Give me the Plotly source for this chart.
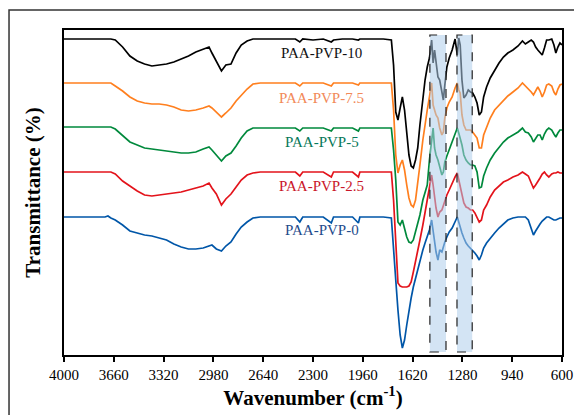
import plotly.graph_objects as go

# Wavenumber grid (cm-1)
wavenumber = [4000, 3900, 3800, 3720, 3700, 3680, 3650, 3600, 3550, 3500,
              3450, 3400, 3350, 3300, 3250, 3200, 3150, 3100, 3050, 3010,
              2990, 2960, 2925, 2895, 2860, 2825, 2790, 2750, 2710, 2660,
              2600, 2500, 2420, 2390, 2370, 2300, 2230, 2175, 2160, 2100,
              2030, 1990, 1980, 1900, 1820, 1765, 1750, 1735, 1720, 1705,
              1690, 1675, 1660, 1645, 1630, 1615, 1600, 1585, 1570, 1550,
              1535, 1520, 1505, 1490, 1480, 1470, 1460, 1447, 1435, 1420,
              1410, 1400, 1386, 1370, 1350, 1330, 1315, 1305, 1295, 1283,
              1270, 1255, 1240, 1225, 1210, 1195, 1180, 1165, 1150, 1135,
              1115, 1090, 1060, 1030, 1000, 970, 935, 900, 870, 850,
              830, 810, 795, 780, 765, 750, 735, 720, 705, 690,
              670, 655, 642, 628, 614, 600]

# Transmittance (a.u., stacked spectra)
paa_pvp_10 = [316, 316, 316, 316, 316, 316, 315, 308, 299, 294,
              291, 289, 290, 291, 293, 296, 299, 303, 306, 308,
              302, 293, 284, 290, 291, 302, 310, 314, 316, 316,
              316, 316, 316, 313, 316, 315, 316, 313, 315, 316,
              316, 315, 316, 316, 316, 315, 290, 243, 235, 247,
              258, 245, 218, 200, 189, 187, 195, 207, 230, 258,
              275, 288, 297, 315, 292, 305, 290, 278, 275, 260,
              255, 270, 288, 297, 305, 316, 300, 317, 310, 275,
              257, 260, 265, 263, 262, 258, 252, 240, 243, 258,
              268, 277, 285, 292, 298, 302, 305, 309, 314, 311,
              313, 315, 313, 308, 305, 303, 300, 307, 315, 315,
              316, 310, 302, 308, 312, 310]
paa_pvp_7_5 = [272, 272, 272, 272, 272, 272, 269, 264, 258, 254,
               252, 251, 251, 250, 248, 245, 244, 245, 247, 249,
               247, 243, 238, 242, 247, 254, 260, 266, 271, 272,
               272, 272, 272, 269, 272, 272, 272, 269, 272, 272,
               272, 270, 272, 272, 272, 272, 245, 200, 182, 190,
               195, 185, 170, 157, 150, 148, 155, 170, 190, 215,
               233, 245, 258, 272, 250, 245, 240, 237, 227, 220,
               223, 237, 247, 253, 258, 267, 272, 265, 262, 240,
               230, 225, 225, 225, 223, 220, 217, 207, 207, 220,
               227, 237, 245, 250, 255, 259, 263, 267, 272, 269,
               267, 263, 260, 264, 268, 264, 258, 263, 270, 271,
               269, 263, 260, 266, 270, 271]
paa_pvp_5 = [228, 228, 228, 228, 228, 228, 226, 219, 213, 210,
             207, 206, 205, 204, 203, 202, 202, 203, 206, 208,
             205, 200, 194, 199, 202, 209, 217, 224, 227, 227,
             227, 227, 227, 224, 227, 227, 227, 224, 227, 227,
             227, 224, 227, 227, 227, 227, 205, 175, 133, 130,
             135, 125, 118, 113, 112, 115, 123, 130, 140, 155,
             163, 170, 195, 215, 227, 207, 200, 195, 187, 180,
             183, 193, 199, 205, 213, 220, 227, 222, 217, 210,
             200, 195, 192, 190, 190, 189, 183, 167, 168, 179,
             187, 195, 202, 208, 213, 217, 220, 223, 227, 223,
             222, 218, 213, 217, 220, 220, 215, 221, 225, 227,
             225, 221, 218, 222, 225, 225]
paa_pvp_2_5 = [183, 183, 183, 183, 183, 183, 181, 174, 169, 164,
               160, 159, 160, 161, 162, 163, 165, 167, 169, 172,
               167, 161, 150, 156, 161, 168, 175, 180, 182, 183,
               183, 183, 183, 179, 183, 183, 183, 178, 183, 183,
               183, 178, 183, 183, 183, 183, 155, 105, 72, 69,
               68, 68, 68, 69, 73, 83, 93, 105, 115, 130,
               142, 152, 165, 180, 170, 155, 147, 138, 143, 145,
               150, 155, 160, 165, 172, 178, 182, 175, 168, 160,
               152, 148, 147, 145, 145, 142, 137, 133, 135, 145,
               150, 158, 165, 169, 173, 175, 178, 180, 183, 181,
               179, 172, 167, 170, 173, 177, 181, 183, 180, 178,
               181, 182, 182, 183, 182, 182]
paa_pvp_0 = [138, 138, 138, 138, 139, 137, 135, 130, 124, 122,
             120, 119, 117, 115, 111, 108, 106, 106, 107, 109,
             110, 106, 104, 109, 113, 121, 128, 133, 137, 138,
             138, 138, 138, 133, 138, 138, 138, 132, 138, 138,
             138, 132, 138, 138, 138, 137, 110, 75, 45, 20,
             7, 15, 30, 45, 57, 68, 77, 85, 95, 105,
             112, 118, 125, 135, 125, 110, 103, 95, 105, 103,
             109, 113, 118, 123, 127, 133, 138, 133, 127, 122,
             117, 112, 109, 107, 105, 102, 99, 95, 100, 107,
             112, 117, 122, 127, 131, 135, 137, 138, 138, 138,
             135, 125, 120, 124, 128, 131, 134, 136, 138, 138,
             136, 135, 135, 136, 137, 137]

series_names = ["PAA-PVP-10", "PAA-PVP-7.5", "PAA-PVP-5", "PAA-PVP-2.5", "PAA-PVP-0"]
series_values = [paa_pvp_10, paa_pvp_7_5, paa_pvp_5, paa_pvp_2_5, paa_pvp_0]
line_colors = ["#000000", "#ff7f1e", "#00893c", "#e3131b", "#0056a8"]
label_colors = ["#111111", "#f28a5a", "#08795a", "#c9162a", "#1f4c8c"]
label_y = [302, 257, 213, 169, 125]
label_x = 2239

# Highlighted bands (cm-1)
band_edges = [(1502, 1392), (1317, 1213)]
band_y = (3, 320)

x_ticks = [4000, 3660, 3320, 2980, 2640, 2300, 1960, 1620, 1280, 940, 600]

fig = go.Figure()
for name, vals, col in zip(series_names, series_values, line_colors):
    fig.add_trace(go.Scatter(x=wavenumber, y=vals, mode="lines", name=name,
                             line=dict(color=col, width=1.7), showlegend=False))

for name, ly, lc in zip(series_names, label_y, label_colors):
    fig.add_annotation(x=label_x, y=ly, text=name, showarrow=False,
                       font=dict(family="Liberation Serif", size=15, color=lc))

for x0, x1 in band_edges:
    fig.add_shape(type="rect", x0=x0, x1=x1, y0=band_y[0], y1=band_y[1],
                  xref="x", yref="y", layer="above",
                  fillcolor="rgba(175,205,235,0.55)",
                  line=dict(color="#222222", width=1.2, dash="dash"))

# outer figure frame
fig.add_shape(type="rect", xref="paper", yref="paper",
              x0=-0.1104, x1=1.06, y0=-0.25, y1=1.0615,
              line=dict(color="#333333", width=1.5), fillcolor="rgba(0,0,0,0)")

fig.update_layout(
    width=574, height=415,
    margin=dict(l=64, r=12, t=30, b=60, autoexpand=False),
    paper_bgcolor="white", plot_bgcolor="white",
    font=dict(family="Liberation Serif", color="black"),
    xaxis=dict(range=[4000, 600], tickvals=x_ticks, ticktext=[str(t) for t in x_ticks],
               ticks="outside", ticklen=5, tickwidth=1.5, tickcolor="black",
               showline=True, linecolor="black", linewidth=1.5, mirror=True,
               showgrid=False, zeroline=False, automargin=False,
               tickfont=dict(family="Liberation Serif", size=15, color="black"),
               title=dict(text="<b>Wavenumber (cm<sup>-1</sup>)</b>", standoff=6,
                          font=dict(family="Liberation Serif", size=21, color="black"))),
    yaxis=dict(range=[0, 325], showticklabels=False, ticks="",
               showline=True, linecolor="black", linewidth=1.5, mirror=True,
               showgrid=False, zeroline=False, automargin=False,
               title=dict(text="<b>Transmittance (%)</b>", standoff=16,
                          font=dict(family="Liberation Serif", size=21, color="black"))),
)

fig.write_html("out.html")
